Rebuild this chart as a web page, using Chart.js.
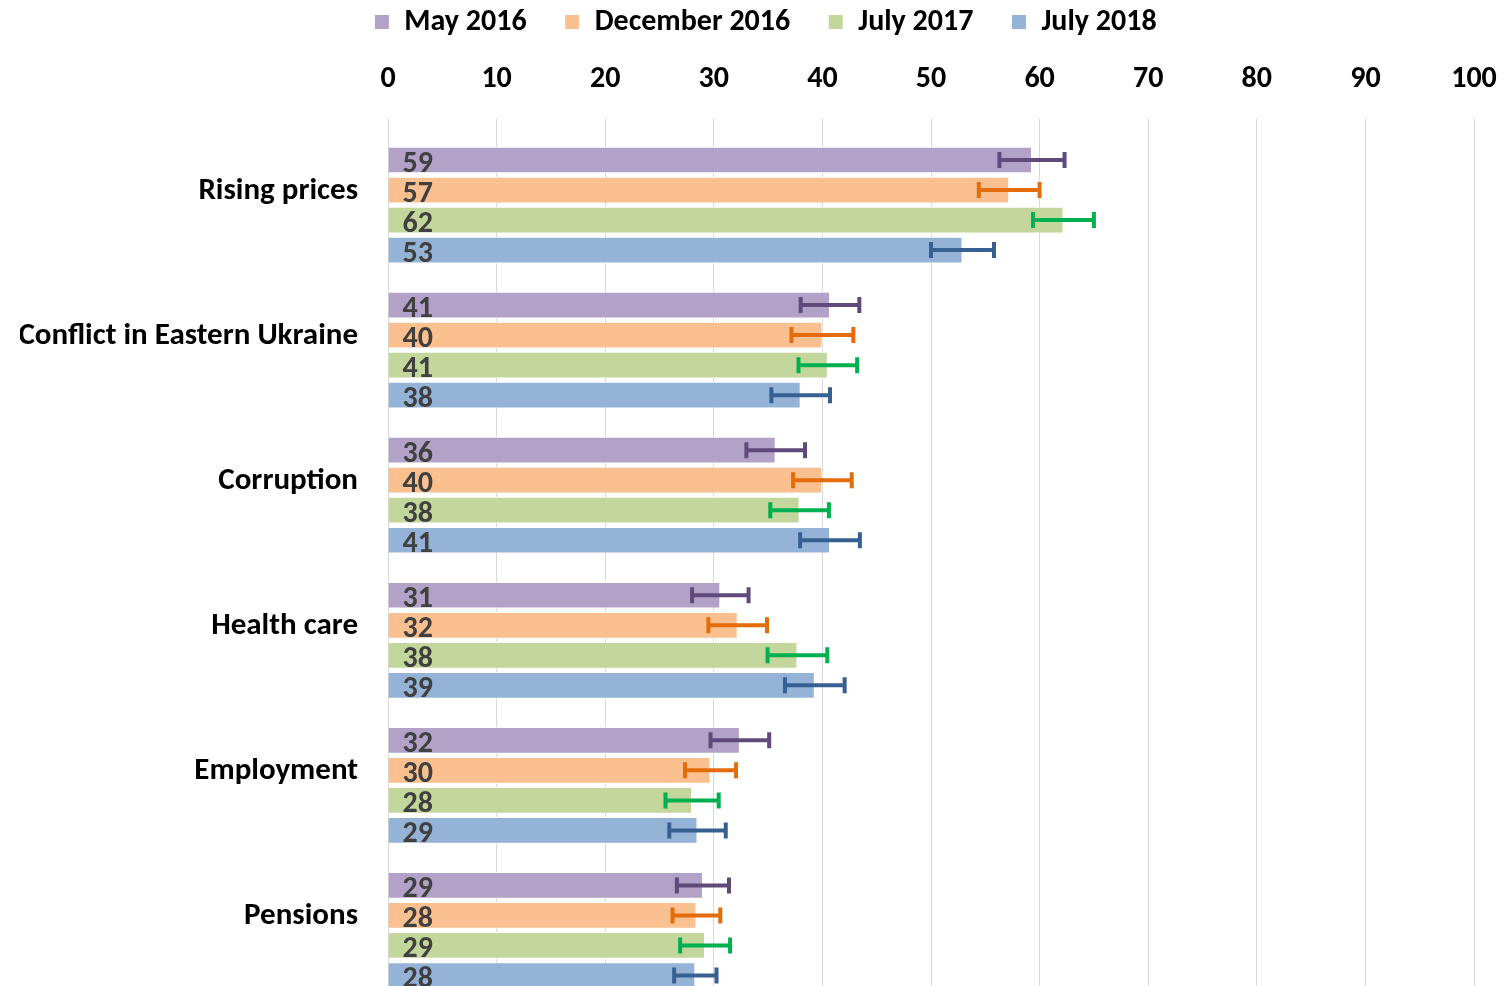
<!DOCTYPE html>
<html>
<head>
<meta charset="utf-8">
<script src="https://cdn.jsdelivr.net/npm/chart.js@4.4.1/dist/chart.umd.min.js"></script>
<style>
  html, body { margin: 0; padding: 0; background: #fff; overflow: hidden; }
  canvas { display: block; }
</style>
</head>
<body>
<canvas id="chart" width="1511" height="1004"></canvas>
<script>
const categories = ['Rising prices', 'Conflict in Eastern Ukraine', 'Corruption', 'Health care', 'Employment', 'Pensions'];
const seriesNames = ['May 2016', 'December 2016', 'July 2017', 'July 2018'];
const may2016 = [59.3, 40.7, 35.7, 30.6, 32.4, 29.0];
const dec2016 = [57.2, 40.0, 40.0, 32.2, 29.7, 28.4];
const jul2017 = [62.2, 40.5, 37.9, 37.7, 28.0, 29.2];
const jul2018 = [52.9, 38.0, 40.7, 39.3, 28.5, 28.3];
const may2016Err = [3.0, 2.7, 2.7, 2.6, 2.7, 2.4];
const dec2016Err = [2.8, 2.85, 2.7, 2.7, 2.35, 2.2];
const jul2017Err = [2.8, 2.7, 2.7, 2.75, 2.45, 2.3];
const jul2018Err = [2.9, 2.7, 2.75, 2.75, 2.6, 1.95];
const xTicks = [0, 10, 20, 30, 40, 50, 60, 70, 80, 90, 100];

const fillColors = ['#b3a2c7', '#fac090', '#c3d69b', '#95b3d7'];
const errColors = ['#604a7b', '#e46c0a', '#00b050', '#376092'];
const FONT = 'Carlito, Lato, "Open Sans", sans-serif';

const values = [may2016, dec2016, jul2017, jul2018];
const errors = [may2016Err, dec2016Err, jul2017Err, jul2018Err];

// error bars + value labels
const extras = {
	id: 'extras',
	afterDatasetsDraw(chart) {
		const ctx = chart.ctx;
		const xs = chart.scales.x;
		ctx.save();
		chart.data.datasets.forEach((ds, i) => {
			const meta = chart.getDatasetMeta(i);
			meta.data.forEach((bar, j) => {
				const v = ds.data[j];
				const e = errors[i][j];
				const x1 = xs.getPixelForValue(v - e);
				const x2 = xs.getPixelForValue(v + e);
				const y = bar.y;
				ctx.strokeStyle = errColors[i];
				ctx.lineWidth = 4;
				ctx.lineCap = 'butt';
				ctx.beginPath();
				ctx.moveTo(x1, y);
				ctx.lineTo(x2, y);
				ctx.moveTo(x1, y - 8);
				ctx.lineTo(x1, y + 8);
				ctx.moveTo(x2, y - 8);
				ctx.lineTo(x2, y + 8);
				ctx.stroke();

				ctx.fillStyle = '#404040';
				ctx.font = 'bold 30px ' + FONT;
				ctx.textAlign = 'left';
				ctx.textBaseline = 'middle';
				ctx.fillText(String(Math.round(v)), bar.base + 14, y + 4);
			});
		});
		ctx.restore();
	}
};

const data = {
	labels: categories,
	datasets: seriesNames.map((name, i) => ({
		label: name,
		data: values[i],
		backgroundColor: fillColors[i],
		borderColor: '#ffffff',
		borderWidth: 1,
		categoryPercentage: 0.8276,
		barPercentage: 0.89
	}))
};

const options = {
	indexAxis: 'y',
	responsive: false,
	animation: false,
	devicePixelRatio: 1,
	layout: { padding: { left: 20, right: 0, top: -31, bottom: 1 } },
	plugins: {
		legend: {
			position: 'top',
			labels: {
				color: '#000',
				font: { family: FONT, size: 30, weight: 'bold' },
				boxWidth: 15,
				boxHeight: 15,
				padding: 38
			}
		},
		tooltip: { enabled: false }
	},
	scales: {
		x: {
			position: 'top',
			min: 0,
			max: 100,
			afterBuildTicks: s => { s.ticks = xTicks.map(v => ({ value: v })); },
			afterFit: s => { s.height = 85.5; s.paddingLeft = 0; s.paddingRight = 37; },
			grid: { color: '#d9d9d9', lineWidth: 1, drawTicks: true, tickLength: 14, tickColor: '#d9d9d9' },
			border: { display: false },
			ticks: {
				color: '#000',
				font: { family: FONT, size: 30, weight: 'bold' },
				padding: 21.5,
				maxRotation: 0
			}
		},
		y: {
			afterFit: s => { s.width = 368; s.paddingTop = 0; s.paddingBottom = 0; },
			grid: { display: false, drawTicks: false, tickLength: 0 },
			border: { display: false },
			ticks: {
				color: '#000',
				font: { family: FONT, size: 31, weight: 'bold' },
				padding: 30,
				labelOffset: -14
			}
		}
	}
};

const ctx = document.getElementById('chart').getContext('2d');
window.myChart = new Chart(ctx, { type: 'bar', data: data, options: options, plugins: [extras] });
</script>
</body>
</html>
